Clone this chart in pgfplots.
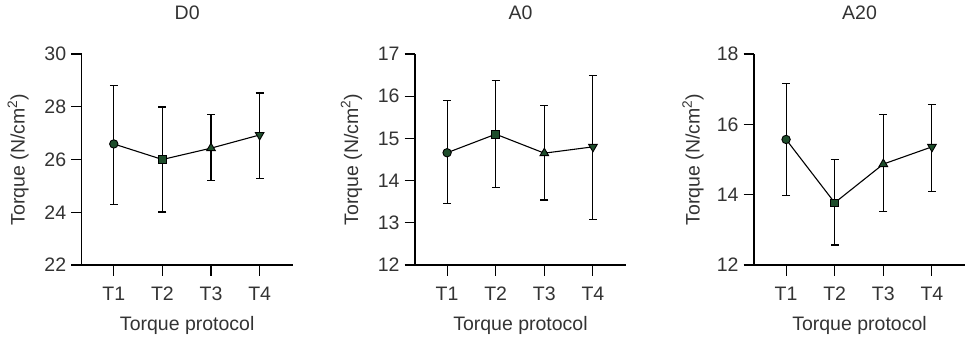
\documentclass[border=0pt]{standalone}
\usepackage{fontspec}
\setmainfont{Liberation Sans}
\usepackage{pgfplots}
\pgfplotsset{compat=1.18}
\definecolor{txt}{RGB}{51,51,51}
\definecolor{mk}{RGB}{30,77,43}
\pgfplotsset{
  panel/.style={
    scale only axis, width=211pt, height=211pt,
    anchor=south west,
    axis lines=left, axis line style={-, line width=1.1pt, black},
    xmin=0.34, xmax=4.68,
    xtick={1,2,3,4}, xticklabels={T1,T2,T3,T4},
    tick align=outside, major tick length=10.5pt,
    tick style={line width=1.1pt, black},
    font=\fontsize{19.5}{23}\selectfont, 
    /pgf/number format/assume math mode=true,
    tick label style={text=txt},
    xticklabel style={yshift=-8pt},
    yticklabel style={xshift=-1.5pt},
    label style={text=txt},
    title style={at={(axis description cs:0.5,1)}, anchor=base, yshift=29pt, text=txt},
    xlabel={Torque protocol},
    xlabel style={yshift=-9pt},
    ylabel={Torque (N/cm\textsuperscript{2})},
    ylabel style={at={(axis description cs:0,0.5)}, anchor=center, yshift=63.5pt},
    clip=false,
  },
  ln/.style={black, line width=1.1pt, no marks,
    error bars/.cd, y dir=both, y explicit,
    error bar style={line width=1.1pt, black},
    error mark options={rotate=90, mark size=4pt, line width=1.1pt, black}},
  mc/.style={only marks, mark=*, mark size=4.2pt, mark options={fill=mk, draw=black, line width=0.9pt}},
  ms/.style={only marks, mark=square*, mark size=3.8pt, mark options={fill=mk, draw=black, line width=0.9pt}},
  mt/.style={only marks, mark=triangle*, mark size=5pt, mark options={fill=mk, draw=black, line width=0.9pt}},
  md/.style={only marks, mark=triangle*, mark size=5pt, mark options={fill=mk, draw=black, line width=0.9pt, rotate=180}},
}
\pgfplotstableread{
x y ep em
1 26.59 2.21 2.28
2 26.00 1.99 1.99
3 26.43 1.27 1.21
4 26.93 1.59 1.65
}\dataD
\pgfplotstableread{
x y ep em
1 14.66 1.23 1.21
2 15.10 1.28 1.26
3 14.65 1.13 1.11
4 14.80 1.69 1.73
}\dataA
\pgfplotstableread{
x y ep em
1 15.57 1.59 1.60
2 13.77 1.22 1.20
3 14.87 1.40 1.34
4 15.36 1.20 1.26
}\dataB
\begin{document}
\begin{tikzpicture}
\useasboundingbox (0,0) rectangle (967pt,338pt);
% Panel D0
\begin{axis}[panel, at={(81.7pt,73pt)}, title={D0}, ymin=22, ymax=30, ytick={22,24,26,28,30}]
\addplot+[ln] table[x=x, y=y, y error plus=ep, y error minus=em] {\dataD};
\addplot[mc] coordinates {(1,26.59)};
\addplot[ms] coordinates {(2,26.00)};
\addplot[mt] coordinates {(3,26.43)};
\addplot[md] coordinates {(4,26.93)};
\end{axis}
% Panel A0
\begin{axis}[panel, at={(415pt,73pt)}, title={A0}, ymin=12, ymax=17, ytick={12,13,14,15,16,17}]
\addplot+[ln] table[x=x, y=y, y error plus=ep, y error minus=em] {\dataA};
\addplot[mc] coordinates {(1,14.66)};
\addplot[ms] coordinates {(2,15.10)};
\addplot[mt] coordinates {(3,14.65)};
\addplot[md] coordinates {(4,14.80)};
\end{axis}
% Panel A20
\begin{axis}[panel, at={(754pt,73pt)}, title={A20}, ymin=12, ymax=18, ytick={12,14,16,18}, ylabel style={yshift=-2.5pt}]
\addplot+[ln] table[x=x, y=y, y error plus=ep, y error minus=em] {\dataB};
\addplot[mc] coordinates {(1,15.57)};
\addplot[ms] coordinates {(2,13.77)};
\addplot[mt] coordinates {(3,14.87)};
\addplot[md] coordinates {(4,15.36)};
\end{axis}
\end{tikzpicture}
\end{document}
